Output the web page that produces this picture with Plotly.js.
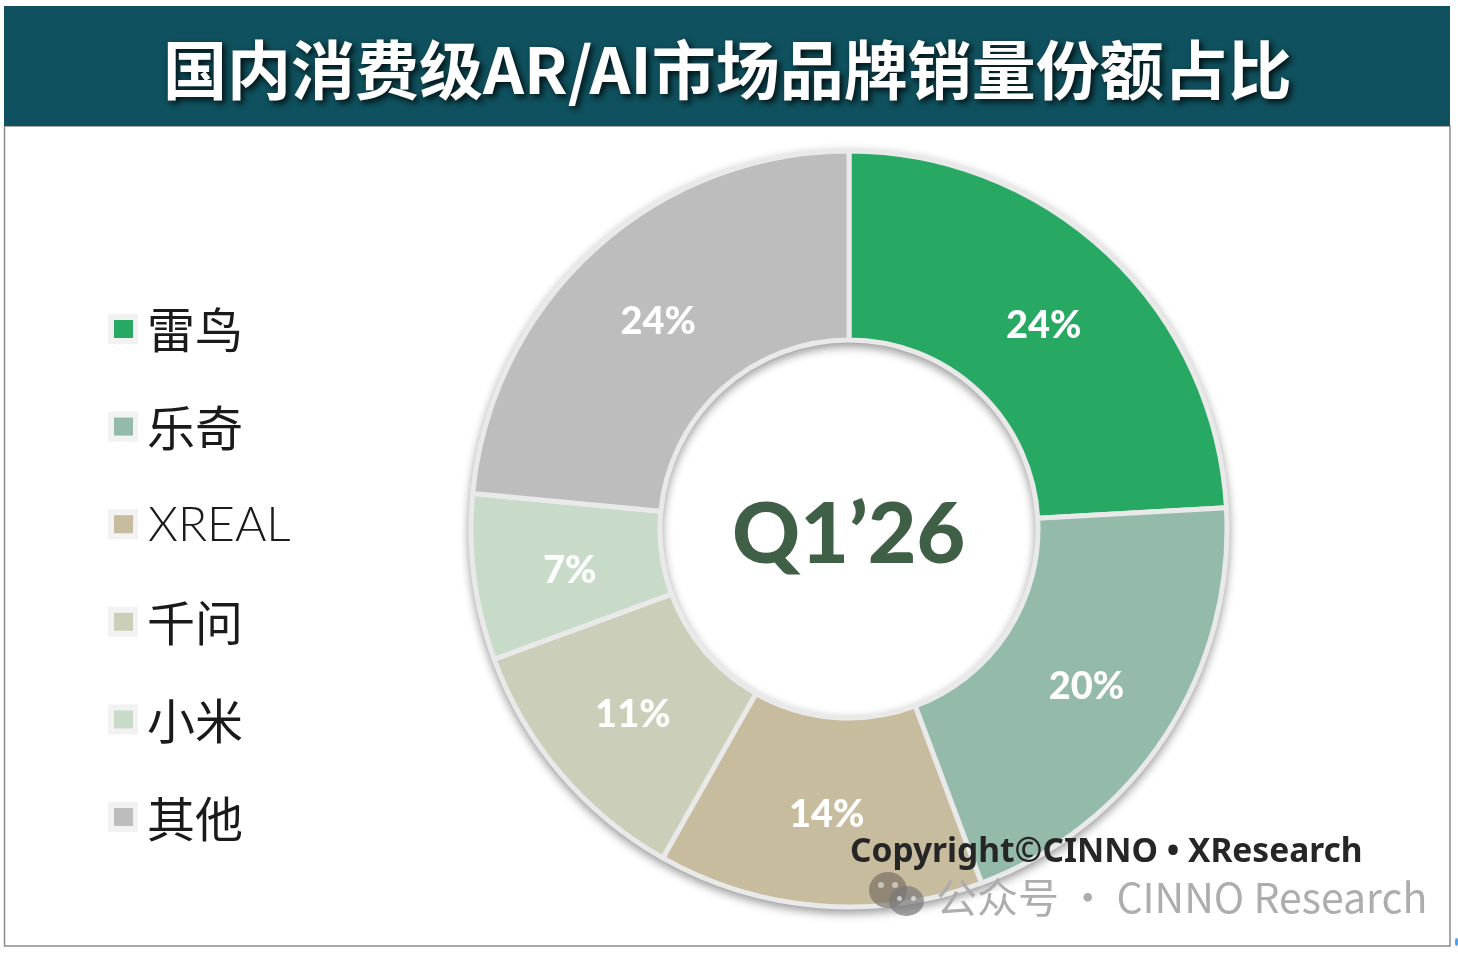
<!DOCTYPE html>
<html>
<head>
<meta charset="utf-8">
<script src="https://cdn.plot.ly/plotly-3.0.1.min.js"></script>
<style>
html,body{margin:0;padding:0;background:#fff;}
#chart{width:1458px;height:954px;}
.annotation[data-index="0"] text{filter:drop-shadow(3px 3px 3px rgba(0,0,0,.8));}
.pielayer{filter:drop-shadow(0 4px 5px rgba(0,0,0,.4));}
</style>
</head>
<body>
<div id="chart"></div>
<script>
const categories = ['雷鸟','乐奇','XREAL','千问','小米','其他'];
const shares = [24.1,20.2,13.9,11.2,7.1,23.5];
const shareLabels = ['24%','20%','14%','11%','7%','24%'];
const colors = ['#27a963','#94bbaa','#c8bc9f','#cbcfb9','#c8dbc9','#bdbdbd'];
const titleText = '国内消费级AR/AI市场品牌销量份额占比';
const centerText = 'Q1’26';
const copyrightText = 'Copyright©CINNO • XResearch';
const watermarkText = '公众号\u2009·\u2009CINNO Research';

const W = 1458, H = 954;
const px = v => v / W, py = v => 1 - v / H;
const cjk = '"Noto Sans CJK SC","Noto Sans",sans-serif';
const latin = 'Lato,"Noto Sans",sans-serif';
const legendTop = 329, legendStep = 97.6;
const para = {xref:'paper', yref:'paper', showarrow:false, yanchor:'middle'};
const box = (type,x0,x1,y0,y1,fill)=>({type, xref:'paper', yref:'paper', x0:px(x0), x1:px(x1), y0:py(y1), y1:py(y0), line:{width:0}, fillcolor:fill});

const annotations = [
  {...para, text:titleText, x:px(727), y:py(66), xanchor:'center',
   font:{family:cjk, size:64, color:'#ffffff', weight:700}},
  {...para, text:centerText, x:px(849), y:py(530), xanchor:'center',
   font:{family:latin, size:84, color:'#3f5f47', weight:900}},
  {...para, text:shareLabels[4], x:px(569), y:py(568), xanchor:'center',
   font:{family:latin, size:38, color:'#ffffff', weight:900}},
  {...para, text:copyrightText, x:px(848), y:py(849), xanchor:'left',
   font:{family:'"Noto Sans",sans-serif', size:33.5, color:'#262626', weight:700}},
  {...para, text:watermarkText, x:px(934), y:py(895), xanchor:'left',
   font:{family:cjk, size:41, color:'#adadad'}}
];
const shapes = [
  {type:'rect', xref:'paper', yref:'paper', x0:px(4.5), x1:px(1450), y0:py(946), y1:py(126), line:{color:'#8c8c8c', width:1.5}, fillcolor:'#ffffff', layer:'below'},
  {...box('rect',4,1450,6,126,'#0f515e'), layer:'below'},
  box('circle',869,907,872,908,'rgba(110,100,90,.6)'),
  box('circle',889,924,886,916,'rgba(120,120,120,.7)'),
  box('circle',878,884,882,888,'rgba(255,255,255,.5)'),
  box('circle',892,898,882,888,'rgba(255,255,255,.5)'),
  box('circle',897,902,896,901,'rgba(255,255,255,.6)'),
  box('circle',911,916,896,901,'rgba(255,255,255,.6)'),
  box('circle',1455,1458,938,946,'#4a9fe8')
];
categories.forEach((name,i)=>{
  const y = legendTop + i*legendStep;
  const isLatin = name === 'XREAL';
  shapes.push(box('rect',108,138,y-15,y+15,'#f2f2f2'));
  shapes.push(box('rect',114,133,y-9,y+9,colors[i]));
  annotations.push({...para, text:name, x:px(isLatin?146:145), y:py(isLatin?y-2:y+1), xanchor:'left',
    font:{family:'Lato,"Noto Sans CJK SC",sans-serif', size:48, color:'#1a1a1a', weight:isLatin?300:400}});
});

const trace = {
  type:'pie', labels:categories, values:shares,
  text:shareLabels.map((t,i)=> i===4 ? '' : t), textinfo:'text',
  sort:false, direction:'clockwise', rotation:0, hole:0.5,
  marker:{colors:colors, line:{color:'#e9e9e9', width:5}},
  textposition:'inside', insidetextorientation:'horizontal',
  textfont:{family:latin, size:38, color:'#ffffff', weight:900},
  domain:{x:[px(471),px(1227)], y:[py(907),py(151)]},
  hoverinfo:'label+percent'
};
Plotly.newPlot('chart',[trace],{
  width:W, height:H, margin:{l:0,r:0,t:0,b:0}, showlegend:false,
  paper_bgcolor:'#ffffff', annotations:annotations, shapes:shapes
},{displayModeBar:false});
</script>
</body>
</html>
